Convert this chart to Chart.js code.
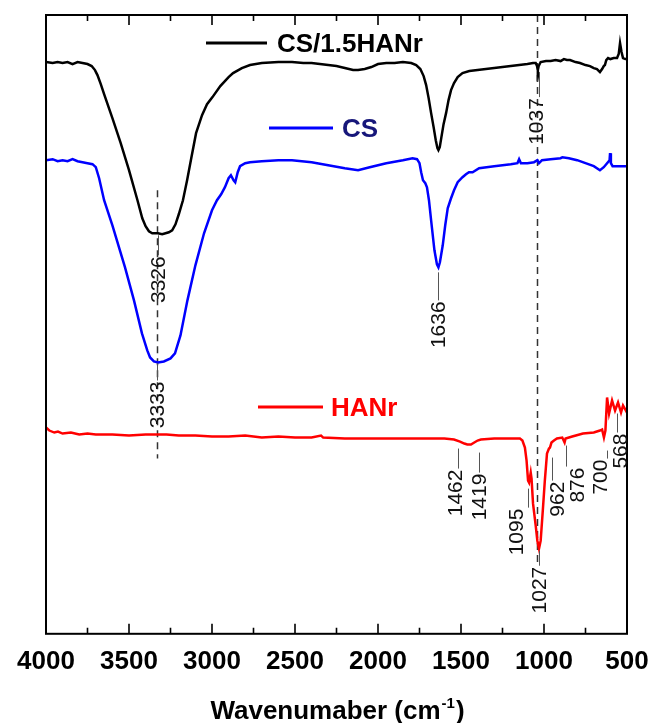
<!DOCTYPE html>
<html><head><meta charset="utf-8">
<script src="https://cdn.jsdelivr.net/npm/chart.js@4/dist/chart.umd.min.js"></script>
<style>html,body{margin:0;padding:0;background:#fff;}</style>
</head><body>
<canvas id="c" width="650" height="723"></canvas>
<script>
// ---- Data (wavenumber cm-1, transmittance in arbitrary offset units) ----
const wnBlack = [4000,3960,3930,3900,3870,3840,3810,3780,3750,3725,3705,3690,3670,3650,3600,3550,3500,3449,3420,3400,3380,3360,3326,3300,3280,3260,3240,3220,3200,3175,3150,3125,3096,3060,3030,2997,2950,2900,2873,2820,2771,2700,2600,2518,2450,2400,2350,2300,2250,2200,2150,2120,2080,2040,2000,1950,1900,1850,1800,1770,1745,1725,1710,1695,1680,1665,1652,1642,1636,1628,1618,1605,1590,1575,1560,1542,1520,1491,1450,1400,1350,1300,1250,1200,1150,1100,1066,1050,1042,1037,1032,1020,988,960,930,900,880,862,843,810,783,750,723,700,681,663,650,640,633,625,614,600,580,560,550,542,533,524,510,500];
const tBlack = [571,570,571,570,571,569,571,570,569,567,563,558,549,539,515,490,463,433,415,407,402,400,400,399,400,401,403,409,419,433,453,475,500,518,529,536,547,556,560,565,568,570,571,571,570,570,569,568,567,565,563,563,564,566,569,570,570,571,570,568,564,557,548,535,520,506,493,485,483,486,496,509,520,533,543,550,556,560,562,563,564,565,566,567,568,569,570,570,567,563,567,571,572,572,573,572,574,573,573,571,570,568,567,565,564,561,564,567,568,573,575,574,575,575,579,590,581,575,574,574];

const wnBlue = [4000,3960,3930,3900,3870,3840,3810,3780,3750,3720,3700,3680,3650,3600,3524,3470,3422,3390,3373,3350,3325,3290,3250,3223,3190,3148,3100,3048,3000,2970,2945,2922,2900,2886,2870,2860,2845,2831,2800,2771,2700,2600,2518,2400,2300,2200,2120,2050,1950,1850,1792,1765,1750,1740,1729,1715,1705,1693,1680,1660,1645,1636,1627,1610,1595,1580,1560,1542,1520,1491,1470,1452,1430,1391,1300,1200,1160,1150,1139,1100,1060,1040,1030,1012,960,900,889,850,800,750,700,663,640,620,605,602,597,587,550,500];
const tBlue = [473,474,472,473,472,474,472,471,470,469,466,455,433,408,366,333,300,283,276,272,271,272,275,280,298,333,368,400,423,433,439,446,455,458,453,451,461,467,470,471,472,473,473,471,468,465,463,466,470,473,475,474,470,461,453,450,446,433,413,383,369,366,371,388,408,425,435,443,451,456,459,461,461,465,467,469,470,474,470,470,471,473,470,473,474,475,476,475,473,470,467,463,466,470,473,480,470,467,467,467];

const wnRed = [4000,3980,3950,3928,3900,3850,3800,3750,3700,3600,3500,3400,3274,3200,3100,3000,2900,2800,2700,2600,2500,2400,2343,2330,2200,2100,2000,1900,1800,1700,1600,1542,1506,1480,1462,1440,1420,1400,1380,1300,1200,1145,1130,1115,1105,1096,1090,1080,1075,1066,1050,1040,1030,1020,1006,995,982,970,964,955,940,922,890,876,870,830,765,700,663,650,639,630,620,608,590,572,554,536,524,500];
const tRed = [206,203,201,202,200,201,199,200,199,199,198,199,199,198,198,197,197,198,196,197,196,196,198,196,195,195,195,195,195,195,195,194,192,190,189,189,191,193,194,195,195,195,193,186,173,153,151,161,155,130,108,93,85,93,126,153,180,185,186,191,193,195,196,191,195,197,200,201,203,204,196,203,236,220,233,223,231,221,228,221];

const seriesNames = ['CS/1.5HANr','CS','HANr'];
const xTicks = [500,1000,1500,2000,2500,3000,3500,4000];

// ---- Annotations (data units) ----
const dashW = [3330, 1040];
const dashTop = [443, 618];
const dashBottom = [175, 68];
const peakText  = ['3326','3333','1636','1037','1027','1462','1419','1095','962','876','700','568'];
const peakTextW = [3326,3333,1636,1045,1030,1536,1392,1169,922,801,663,542];
const peakLeadW = [3326,3333,1636,1028,1030,1518,1392,1096,952,867,620,560];
const peakLeadTop = [398,270,361,561,83,185,181,145,176,188,183,220];
const peakLeadBot = [378,253,333,536,68,165,161,126,153,167,175,201];

const pts = (xs, ys) => xs.map((x, i) => ({x, y: ys[i]}));
const FONT = "'Liberation Sans', Arial, sans-serif";

const decor = {
  id: 'decor',
  beforeDatasetsDraw(chart) {
    const {ctx, scales:{x, y}} = chart;
    ctx.save();
    ctx.strokeStyle = '#333';
    ctx.lineWidth = 1.5;
    ctx.setLineDash([7,5]);
    for (let i = 0; i < dashW.length; i++) {
      const px = Math.round(x.getPixelForValue(dashW[i])) + 0.5;
      ctx.beginPath();
      ctx.moveTo(px, y.getPixelForValue(dashTop[i]));
      ctx.lineTo(px, y.getPixelForValue(dashBottom[i]));
      ctx.stroke();
    }
    ctx.restore();
  },
  afterDatasetsDraw(chart) {
    const {ctx, chartArea:a, scales:{x, y}} = chart;
    ctx.save();
    // frame
    ctx.strokeStyle = '#000';
    ctx.lineWidth = 2;
    ctx.setLineDash([]);
    ctx.strokeRect(a.left, a.top, a.right - a.left, a.bottom - a.top);
    // inward ticks on bottom and top
    ctx.lineWidth = 1.6;
    for (let v = 500; v <= 4000; v += 250) {
      const px = x.getPixelForValue(v);
      const len = (v % 500 === 0) ? 10 : 6;
      ctx.beginPath();
      ctx.moveTo(px, a.bottom); ctx.lineTo(px, a.bottom - len);
      ctx.moveTo(px, a.top); ctx.lineTo(px, a.top + len);
      ctx.stroke();
    }
    // peak labels
    ctx.lineWidth = 1;
    ctx.strokeStyle = '#555';
    ctx.fillStyle = '#111';
    ctx.font = '21px ' + FONT;
    ctx.textAlign = 'right';
    ctx.textBaseline = 'middle';
    for (let i = 0; i < peakText.length; i++) {
      const lx = Math.round(x.getPixelForValue(peakLeadW[i])) + 0.5;
      const yt = y.getPixelForValue(peakLeadTop[i]);
      const yb = y.getPixelForValue(peakLeadBot[i]);
      ctx.beginPath(); ctx.moveTo(lx, yt); ctx.lineTo(lx, yb); ctx.stroke();
      const tx = x.getPixelForValue(peakTextW[i]);
      ctx.save();
      ctx.translate(tx, yb + 1);
      ctx.rotate(-Math.PI / 2);
      ctx.fillText(peakText[i], 0, 1);
      ctx.restore();
    }
    // legend entries
    const leg = [
      {x1:206, x2:267, y:43, color:'#000', tcolor:'#000', tx:277},
      {x1:269, x2:333, y:128, color:'#0000ff', tcolor:'#17177a', tx:342},
      {x1:258, x2:323, y:407, color:'#ff0000', tcolor:'#ff0000', tx:331}
    ];
    ctx.font = 'bold 26px ' + FONT;
    ctx.textAlign = 'left';
    ctx.textBaseline = 'middle';
    leg.forEach((L, i) => {
      ctx.strokeStyle = L.color; ctx.lineWidth = 3;
      ctx.beginPath(); ctx.moveTo(L.x1, L.y); ctx.lineTo(L.x2, L.y); ctx.stroke();
      ctx.fillStyle = L.tcolor;
      ctx.fillText(seriesNames[i], L.tx, L.y + 2);
    });
    // axis title with superscript
    const cx = (a.left + a.right) / 2;
    const base = 719;
    const p1 = 'Wavenumaber (cm', p2 = '-1', p3 = ')';
    ctx.fillStyle = '#000';
    ctx.textBaseline = 'alphabetic';
    ctx.font = 'bold 26px ' + FONT;
    const w1 = ctx.measureText(p1).width, w3 = ctx.measureText(p3).width;
    ctx.font = 'bold 15px ' + FONT;
    const w2 = ctx.measureText(p2).width;
    let sx = cx - (w1 + w2 + w3) / 2;
    ctx.font = 'bold 26px ' + FONT;
    ctx.fillText(p1, sx, base);
    ctx.font = 'bold 15px ' + FONT;
    ctx.fillText(p2, sx + w1 + 1, base - 11);
    ctx.font = 'bold 26px ' + FONT;
    ctx.fillText(p3, sx + w1 + w2 + 2, base);
    ctx.restore();
  }
};

new Chart(document.getElementById('c'), {
  type: 'scatter',
  data: {
    datasets: [
      {label: seriesNames[0], data: pts(wnBlack, tBlack), showLine: true, borderColor: '#000', borderWidth: 2.5, pointRadius: 0, tension: 0},
      {label: seriesNames[1], data: pts(wnBlue, tBlue), showLine: true, borderColor: '#0000ff', borderWidth: 2.5, pointRadius: 0, tension: 0},
      {label: seriesNames[2], data: pts(wnRed, tRed), showLine: true, borderColor: '#ff0000', borderWidth: 2.5, pointRadius: 0, tension: 0}
    ]
  },
  options: {
    responsive: false,
    animation: false,
    devicePixelRatio: 1,
    layout: {padding: {left: 46, right: 23, top: 15, bottom: 34}},
    plugins: {legend: {display: false}, tooltip: {enabled: false}},
    scales: {
      x: {
        type: 'linear', reverse: true, min: 500, max: 4000,
        afterBuildTicks: (s) => { s.ticks = xTicks.map(v => ({value: v})); },
        ticks: {font: {family: 'Liberation Sans', size: 26, weight: 'bold'}, color: '#000', padding: 12, maxRotation: 0, autoSkip: false,
                callback: (v) => String(v)},
        grid: {display: false, drawTicks: false},
        border: {display: false}
      },
      y: {display: false, min: 0, max: 618}
    }
  },
  plugins: [decor]
});
</script>
</body></html>
